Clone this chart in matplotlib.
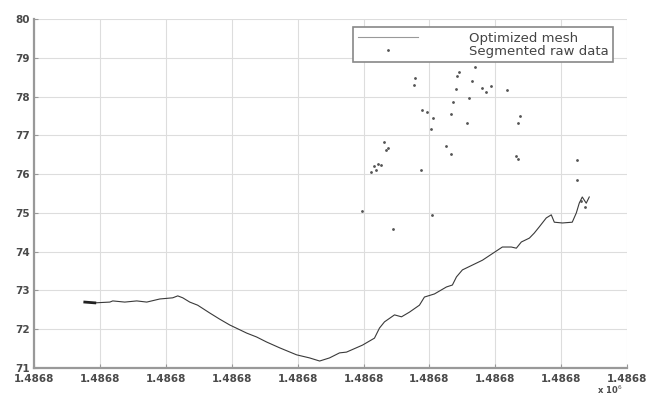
"""
Optimized mesh profile against the segmented raw data points.
x is stored as east offset in metres from X0, y is height.
"""

import matplotlib
matplotlib.use("Agg")
import matplotlib.pyplot as plt
from matplotlib.ticker import FormatStrFormatter
import numpy as np

X0 = 1486800.0  # metres

# optimized mesh (offset m, height)
mesh_x = [3.86, 4.62, 5.76, 5.98, 6.89, 7.80, 8.56, 9.55, 10.53, 10.91, 11.29, 11.82,
          12.42, 13.33, 14.09, 14.85, 16.14, 16.89, 17.65, 18.64, 19.92, 20.91, 21.67,
          22.42, 23.18, 23.71, 24.92, 25.83, 26.21, 26.59, 27.35, 27.88, 28.48, 29.24,
          29.62, 30.38, 31.29, 31.74, 32.05, 32.50, 34.02, 35.53, 36.21, 36.59, 36.97,
          37.58, 37.95, 38.33, 38.86, 39.24, 39.47, 40.08, 40.83, 41.14, 41.36, 41.59,
          41.89, 42.12]
mesh_y = [72.70, 72.68, 72.70, 72.73, 72.70, 72.73, 72.70, 72.78, 72.81, 72.86, 72.81, 72.70,
          72.62, 72.42, 72.26, 72.11, 71.90, 71.80, 71.67, 71.52, 71.34, 71.26, 71.18,
          71.26, 71.39, 71.41, 71.59, 71.77, 72.03, 72.19, 72.37, 72.32, 72.44, 72.62,
          72.83, 72.91, 73.09, 73.14, 73.35, 73.53, 73.78, 74.12, 74.12, 74.09, 74.25,
          74.35, 74.48, 74.64, 74.87, 74.95, 74.76, 74.74, 74.76, 75.00, 75.25, 75.41,
          75.25, 75.41]

# segmented raw data that sits off the mesh
raw_x = [28.94, 28.86, 32.27, 32.12, 33.26, 32.05, 34.02, 34.70, 34.32, 35.91, 31.82,
         33.03, 29.47, 29.85, 30.30, 31.67, 32.88, 30.08, 36.89, 36.74, 26.52, 26.82,
         26.74, 31.29, 31.67, 36.59, 36.74, 26.06, 26.36, 25.76, 25.91, 25.53, 29.39,
         33.48, 41.21, 41.21, 24.92, 27.20, 30.23, 41.50, 41.80]
raw_y = [78.47, 78.29, 78.63, 78.53, 78.40, 78.19, 78.22, 78.27, 78.11, 78.16, 77.86,
         77.96, 77.65, 77.60, 77.44, 77.55, 77.31, 77.16, 77.49, 77.31, 76.82, 76.67,
         76.62, 76.72, 76.52, 76.46, 76.39, 76.26, 76.23, 76.21, 76.10, 76.05, 76.10,
         78.76, 76.36, 75.85, 75.05, 74.58, 74.94, 75.30, 75.15]

x_ticks_m = [0, 5, 10, 15, 20, 25, 30, 35, 40, 45]
y_ticks = [71, 72, 73, 74, 75, 76, 77, 78, 79, 80]

TXT = "#4a4a4a"
FONT = "DejaVu Sans"

fig = plt.figure(figsize=(6.52, 3.96), dpi=100)
ax = fig.add_axes([0.052, 0.0707, 0.910, 0.8813])

mx = (X0 + np.array(mesh_x)) / 1e6
rx = (X0 + np.array(raw_x)) / 1e6
ax.plot(mx, mesh_y, color="#3a3a3a", lw=0.8, label="Optimized mesh")
ax.plot(rx, raw_y, ls="none", marker=".", ms=2.0, color="#555555",
        label="Segmented raw data")
# dark clump where the profile starts
ax.plot(mx[:2], mesh_y[:2], color="#222222", lw=2.0)

ax.set_xlim((X0 + x_ticks_m[0]) / 1e6, (X0 + x_ticks_m[-1]) / 1e6)
ax.set_ylim(y_ticks[0], y_ticks[-1])
ax.set_xticks([(X0 + t) / 1e6 for t in x_ticks_m])
ax.set_yticks(y_ticks)
ax.xaxis.set_major_formatter(FormatStrFormatter("%.4f"))

ax.grid(True, color="#dddddd", lw=0.8)
ax.set_axisbelow(True)
for side in ["top", "right"]:
    ax.spines[side].set_visible(False)
for side in ["left", "bottom"]:
    ax.spines[side].set_color("#999999")
    ax.spines[side].set_linewidth(1.6)

ax.tick_params(direction="in", length=3, color="#999999", labelsize=7.5,
               labelcolor=TXT, pad=3)
ax.tick_params(axis="x", pad=4)
for lab in ax.get_xticklabels() + ax.get_yticklabels():
    lab.set_fontfamily(FONT)
    lab.set_fontweight("bold")

fig.text(0.955, 0.0, r"x 10$^6$", ha="right", va="bottom", fontsize=6,
         color=TXT, family=FONT, fontweight="bold")

leg = ax.legend(loc="upper right", bbox_to_anchor=(0.976, 0.977), borderaxespad=0,
                fancybox=False, edgecolor="#888888", framealpha=1,
                prop={"family": FONT, "size": 9.5}, handlelength=4.6,
                handletextpad=3.8, labelspacing=0.0, borderpad=0.35,
                markerscale=1.0)
leg.get_frame().set_linewidth(1.2)
leg.get_lines()[0].set_color("#999999")
for t in leg.get_texts():
    t.set_color("#444444")

fig.savefig("out.png", dpi=100)
